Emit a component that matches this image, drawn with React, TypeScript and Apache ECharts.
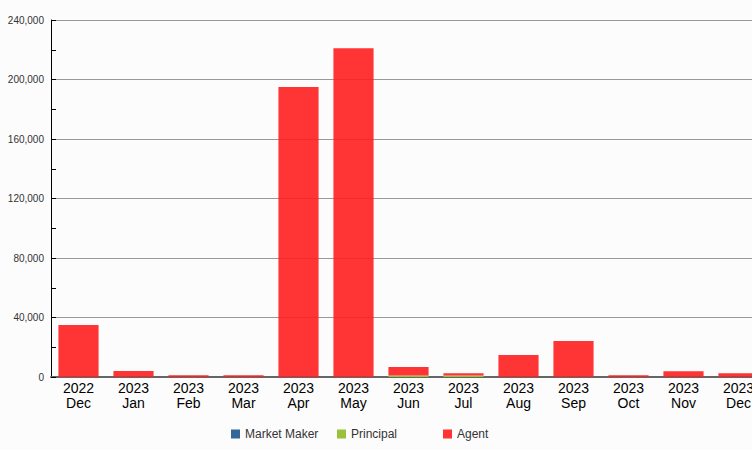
import React, { useEffect, useRef } from "react";
import * as echarts from "echarts";

const years = ["2022", "2023", "2023", "2023", "2023", "2023", "2023", "2023", "2023", "2023", "2023", "2023", "2023"];
const months = ["Dec", "Jan", "Feb", "Mar", "Apr", "May", "Jun", "Jul", "Aug", "Sep", "Oct", "Nov", "Dec"];
const marketMaker = [0, 0, 0, 0, 0, 0, 0, 0, 0, 0, 0, 0, 0];
const principal = [0, 0, 0, 0, 0, 0, 1000, 1000, 0, 0, 0, 0, 0];
const agent = [35000, 4000, 1200, 1200, 195000, 221000, 5700, 1600, 14800, 24200, 1200, 3800, 2600];

export default function App() {
  const ref = useRef<HTMLDivElement>(null);
  useEffect(() => {
    const chart = echarts.init(ref.current!, null, { renderer: "svg" });
    const categories = years.map((y, i) => y + "\n" + months[i]);
    const legendBase = {
      bottom: 5,
      itemWidth: 9,
      itemHeight: 9,
      icon: "rect",
      textStyle: { fontSize: 12, color: "#333", fontFamily: "Liberation Sans, Arial, sans-serif" },
    };
    chart.setOption({
      animation: false,
      backgroundColor: "#fcfcfc",
      grid: { left: 51, width: 715, top: 20, bottom: 73, containLabel: false, outerBoundsMode: "none" },
      legend: [
        { ...legendBase, data: ["Market Maker"], left: 226 },
        { ...legendBase, data: ["Principal"], left: 332 },
        { ...legendBase, data: ["Agent"], left: 438 },
      ],
      xAxis: {
        type: "category",
        data: categories,
        axisLine: { show: true, lineStyle: { color: "#666", width: 2 } },
        axisTick: { show: false },
        axisLabel: {
          color: "#000",
          fontSize: 14,
          lineHeight: 15,
          margin: 3,
          hideOverlap: false,
          fontFamily: "Liberation Sans, Arial, sans-serif",
        },
      },
      yAxis: {
        type: "value",
        min: 0,
        max: 240000,
        interval: 40000,
        axisLine: { show: true, lineStyle: { color: "#000", width: 1 } },
        axisTick: { show: true, inside: true, length: 5, lineStyle: { color: "#000" } },
        minorTick: { show: true, splitNumber: 2, length: 5, lineStyle: { color: "#000" } },
        splitLine: { show: true, lineStyle: { color: "#999", width: 1 } },
        axisLabel: {
          color: "#333",
          fontSize: 10,
          margin: 7,
          fontFamily: "Liberation Sans, Arial, sans-serif",
          formatter: (v: number) => v.toLocaleString("en-US"),
        },
      },
      series: [
        {
          name: "Market Maker",
          type: "bar",
          stack: "total",
          data: marketMaker,
          barCategoryGap: "27%",
          itemStyle: { color: "#336699" },
        },
        {
          name: "Principal",
          type: "bar",
          stack: "total",
          data: principal,
          barCategoryGap: "27%",
          itemStyle: { color: "#99c13c" },
        },
        {
          name: "Agent",
          type: "bar",
          stack: "total",
          data: agent,
          barCategoryGap: "27%",
          itemStyle: { color: "rgba(255,30,30,0.9)" },
        },
      ],
    });
    return () => chart.dispose();
  }, []);
  return <div ref={ref} style={{ width: 752, height: 450, position: "absolute", left: 0, top: 0 }} />;
}
